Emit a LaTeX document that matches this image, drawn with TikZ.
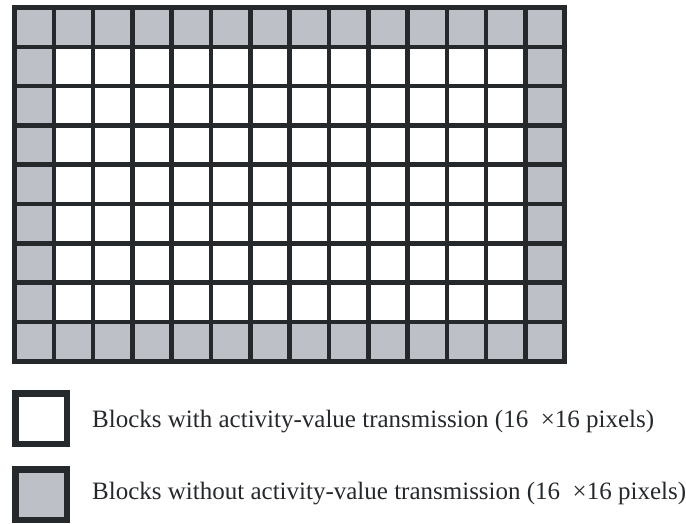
\documentclass[tikz,border=0pt]{standalone}
\usepackage{fontspec}
\setmainfont{Liberation Serif}
\definecolor{gridline}{HTML}{25292C}
\definecolor{edgefill}{HTML}{BDC0C7}
\begin{document}
\begin{tikzpicture}[x=1pt,y=-1pt,
  cellline/.style={draw=gridline,line width=4.6pt},
  keybox/.style={draw=gridline,line width=6.5pt,minimum width=51.5pt,minimum height=50.5pt,inner sep=0pt,outer sep=0pt},
  keytext/.style={anchor=base west,inner sep=0pt,text=gridline,font=\fontsize{25}{29}\selectfont}]
\useasboundingbox (0,0) rectangle (686,523);
% grid geometry: 14 x 9 blocks
\def\gx{14.5}\def\gy{7.5}\def\pitch{39.3}
% border blocks in grey, inner blocks white
\fill[edgefill] (\gx,\gy) rectangle ({\gx+14*\pitch},{\gy+9*\pitch});
\fill[white] ({\gx+\pitch},{\gy+\pitch}) rectangle ({\gx+13*\pitch},{\gy+8*\pitch});
% block separators
\foreach \i in {1,...,13}
  \draw[cellline] ({\gx+\i*\pitch},\gy) -- ({\gx+\i*\pitch},{\gy+9*\pitch});
\foreach \j in {1,...,8}
  \draw[cellline] (\gx,{\gy+\j*\pitch}) -- ({\gx+14*\pitch},{\gy+\j*\pitch});
% outer frame
\draw[draw=gridline,line width=5pt] (\gx,\gy) rectangle ({\gx+14*\pitch},{\gy+9*\pitch});
% legend
\node[keybox,fill=white] (keyA) at (41,418.5) {};
\node[keybox,fill=edgefill] (keyB) at (41,494.5) {};
\node[keytext] (labelA) at (92,427) {Blocks with activity-value transmission (16\hspace{0.5em}×16 pixels)};
\node[keytext] (labelB) at (92,499) {Blocks without activity-value transmission (16\hspace{0.5em}×16 pixels)};
\end{tikzpicture}
\end{document}
